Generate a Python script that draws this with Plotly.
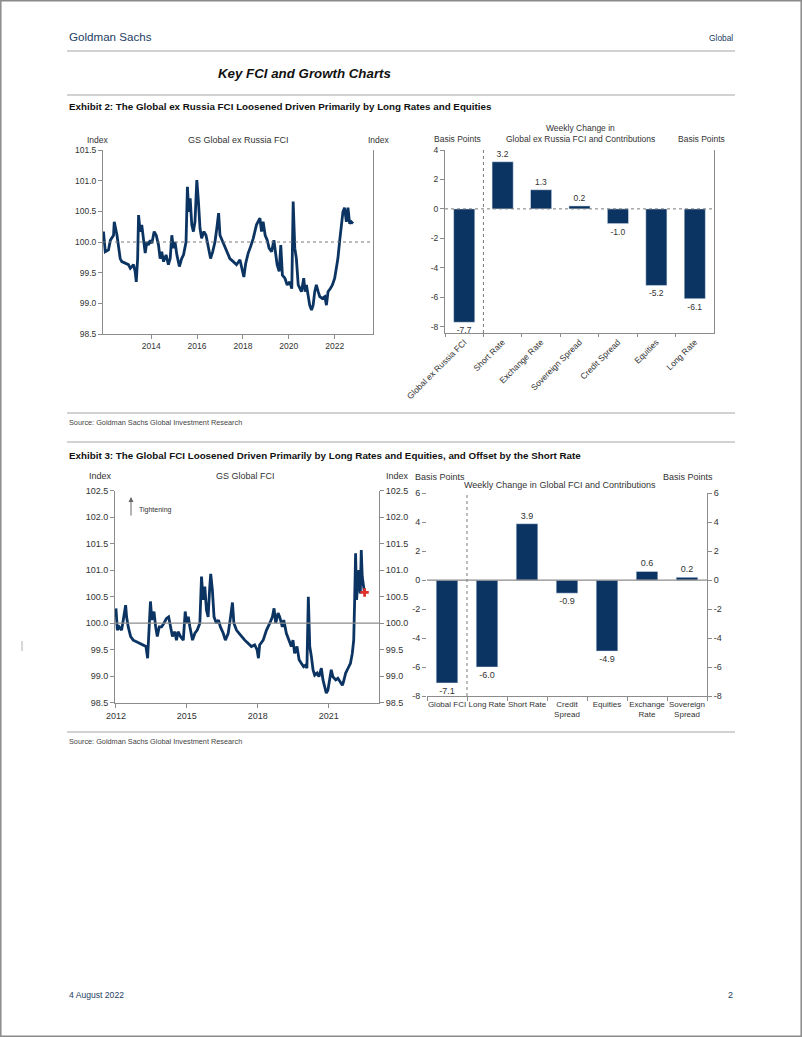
import plotly.graph_objects as go

W, H = 802, 1037

# ---------------- data ----------------
# GS Global ex Russia FCI (index)
exr_years = [2011.92, 2012.00, 2012.14, 2012.22, 2012.36, 2012.39, 2012.51, 2012.58, 2012.65, 2012.72,
             2012.87, 2013.01, 2013.09, 2013.23, 2013.30, 2013.35, 2013.41, 2013.45, 2013.52, 2013.59,
             2013.67, 2013.74, 2013.81, 2013.88, 2013.96, 2014.03, 2014.13, 2014.22, 2014.32, 2014.39,
             2014.46, 2014.54, 2014.65, 2014.75, 2014.83, 2014.90, 2014.97, 2015.04, 2015.12, 2015.23,
             2015.33, 2015.41, 2015.52, 2015.58, 2015.64, 2015.70, 2015.77, 2015.84, 2015.91, 2015.99,
             2016.06, 2016.13, 2016.20, 2016.30, 2016.39, 2016.49, 2016.59, 2016.68, 2016.78, 2016.86,
             2016.94, 2017.00, 2017.12, 2017.22, 2017.32, 2017.43, 2017.58, 2017.72, 2017.87, 2017.97,
             2018.04, 2018.12, 2018.23, 2018.33, 2018.45, 2018.59, 2018.74, 2018.81, 2018.88, 2018.97,
             2019.06, 2019.14, 2019.25, 2019.35, 2019.43, 2019.49, 2019.58, 2019.65, 2019.72, 2019.83,
             2019.93, 2020.04, 2020.13, 2020.19, 2020.26, 2020.33, 2020.41, 2020.48, 2020.55, 2020.65,
             2020.71, 2020.77, 2020.84, 2020.91, 2020.99, 2021.06, 2021.13, 2021.20, 2021.28, 2021.35,
             2021.46, 2021.57, 2021.64, 2021.71, 2021.81, 2021.90, 2022.00, 2022.07, 2022.14, 2022.22,
             2022.29, 2022.36, 2022.43, 2022.51, 2022.58, 2022.65, 2022.72, 2022.80]
exr_values = [100.17, 99.84, 99.87, 100.03, 100.11, 100.33, 100.11, 99.90, 99.73, 99.68,
              99.65, 99.63, 99.57, 99.63, 99.52, 99.35, 99.73, 100.44, 100.17, 100.28,
              100.03, 99.82, 100.00, 99.95, 100.03, 99.98, 100.17, 100.11, 99.95, 99.73,
              99.84, 99.68, 99.79, 99.63, 99.73, 100.11, 99.90, 100.00, 99.79, 99.60,
              99.73, 99.79, 100.00, 100.90, 100.49, 100.71, 100.28, 100.17, 100.33, 101.01,
              100.66, 100.22, 100.06, 100.17, 100.11, 99.92, 99.73, 99.84, 100.00, 100.22,
              100.47, 100.11, 100.00, 99.90, 99.84, 99.73, 99.68, 99.63, 99.71, 99.57,
              99.43, 99.65, 99.82, 99.92, 100.06, 100.28, 100.39, 100.17, 100.33, 100.11,
              100.03, 99.90, 99.84, 100.03, 99.84, 99.63, 99.52, 99.95, 99.46, 99.41,
              99.30, 99.35, 99.24, 100.66, 99.90, 99.73, 99.30, 99.24, 99.19, 99.41,
              99.19, 99.30, 99.14, 98.97, 98.89, 98.97, 99.19, 99.30, 99.19, 99.11,
              99.08, 99.11, 98.97, 99.19, 99.24, 99.30, 99.41, 99.57, 99.73, 100.03,
              100.22, 100.49, 100.56, 100.33, 100.56, 100.30, 100.33, 100.30]

# GS Global FCI (index)
gl_years = [2012.00, 2012.06, 2012.14, 2012.24, 2012.31, 2012.41, 2012.45, 2012.52, 2012.62, 2012.73,
            2012.87, 2013.01, 2013.15, 2013.27, 2013.34, 2013.41, 2013.46, 2013.52, 2013.61, 2013.68,
            2013.75, 2013.83, 2013.93, 2014.03, 2014.14, 2014.23, 2014.31, 2014.39, 2014.49, 2014.56,
            2014.63, 2014.73, 2014.85, 2014.93, 2014.99, 2015.06, 2015.13, 2015.24, 2015.34, 2015.44,
            2015.55, 2015.62, 2015.69, 2015.76, 2015.83, 2015.90, 2015.97, 2016.01, 2016.08, 2016.15,
            2016.25, 2016.34, 2016.42, 2016.54, 2016.63, 2016.75, 2016.85, 2016.93, 2016.99, 2017.10,
            2017.21, 2017.31, 2017.45, 2017.59, 2017.73, 2017.87, 2017.97, 2018.03, 2018.08, 2018.23,
            2018.37, 2018.51, 2018.62, 2018.69, 2018.76, 2018.86, 2018.93, 2019.04, 2019.10, 2019.21,
            2019.32, 2019.42, 2019.49, 2019.56, 2019.66, 2019.75, 2019.85, 2019.94, 2020.03, 2020.08,
            2020.14, 2020.20, 2020.27, 2020.34, 2020.41, 2020.51, 2020.59, 2020.69, 2020.76, 2020.83,
            2020.90, 2020.97, 2021.04, 2021.11, 2021.18, 2021.30, 2021.39, 2021.49, 2021.58, 2021.63,
            2021.72, 2021.82, 2021.92, 2022.00, 2022.06, 2022.10, 2022.14, 2022.18, 2022.24, 2022.28,
            2022.34, 2022.38, 2022.42, 2022.46, 2022.51]
gl_values = [100.28, 99.87, 99.93, 99.87, 100.06, 100.34, 100.12, 99.93, 99.75, 99.68,
             99.65, 99.62, 99.59, 99.56, 99.34, 100.00, 100.41, 100.06, 100.22, 99.93,
             99.75, 99.93, 99.93, 100.00, 100.09, 100.12, 99.93, 99.75, 99.84, 99.68,
             99.84, 99.75, 99.68, 100.22, 100.00, 100.12, 99.93, 99.68, 99.81, 99.87,
             100.00, 100.88, 100.44, 100.69, 100.25, 100.12, 100.69, 100.93, 100.63, 100.12,
             100.00, 100.06, 99.93, 99.81, 99.68, 99.81, 100.12, 100.39, 100.00, 99.87,
             99.81, 99.75, 99.68, 99.62, 99.56, 99.59, 99.50, 99.34, 99.59, 99.68,
             99.87, 100.00, 100.12, 100.28, 100.00, 100.19, 100.12, 99.93, 100.06, 99.81,
             99.68, 99.56, 99.68, 99.43, 99.56, 99.31, 99.24, 99.18, 99.21, 99.15,
             100.50, 99.56, 99.37, 99.12, 99.02, 99.06, 98.99, 99.15, 98.93, 98.80,
             98.68, 98.74, 98.93, 99.12, 98.99, 98.93, 98.96, 98.90, 98.83, 98.90,
             99.06, 99.15, 99.24, 99.43, 99.68, 100.44, 101.32, 100.44, 100.75, 101.00,
             100.56, 101.38, 100.88, 100.69, 100.59]
gl_latest_year = [2022.52]
gl_latest_value = [100.58]

exr_xticks = [2014, 2016, 2018, 2020, 2022]
gl_xticks = [2012, 2015, 2018, 2021]
exr_bp_ticks = [-8, -6, -4, -2, 0, 2, 4]
glc_bp_ticks = [-8, -6, -4, -2, 0, 2, 4, 6]

exr_cats = ["Global ex Russia FCI", "Short Rate", "Exchange Rate", "Sovereign Spread",
            "Credit Spread", "Equities", "Long Rate"]
exr_vals = [-7.7, 3.2, 1.3, 0.2, -1.0, -5.2, -6.1]

glc_cats = ["Global FCI", "Long Rate", "Short Rate", "Credit<br>Spread", "Equities",
            "Exchange<br>Rate", "Sovereign<br>Spread"]
glc_vals = [-7.1, -6.0, 3.9, -0.9, -4.9, 0.6, 0.2]

# ---------------- helpers / styles ----------------
def fx(px):
    return px / W


def fy(py):
    return 1 - py / H


NAVY = "#0b3462"
AX = "#8c8c8c"
TXT = "#333333"
HDR = "#23405f"
FONT = "Liberation Sans, Arial, sans-serif"

fig = go.Figure()

fig.add_trace(go.Scatter(x=exr_years, y=exr_values, mode="lines",
                         line=dict(color=NAVY, width=2.8), xaxis="x", yaxis="y",
                         hoverinfo="skip"))
fig.add_trace(go.Bar(x=exr_cats, y=exr_vals, marker_color=NAVY, width=0.55,
                     text=[f"{v:.1f}" for v in exr_vals], textposition="outside",
                     textfont=dict(size=8.5, color=TXT, family=FONT), cliponaxis=False,
                     xaxis="x2", yaxis="y2", hoverinfo="skip"))
fig.add_trace(go.Scatter(x=gl_years, y=gl_values, mode="lines",
                         line=dict(color=NAVY, width=2.8), xaxis="x3", yaxis="y3",
                         hoverinfo="skip"))
fig.add_trace(go.Scatter(x=gl_latest_year, y=gl_latest_value, mode="markers",
                         marker=dict(symbol="cross", size=7, color="#e0302c"),
                         xaxis="x3", yaxis="y4", hoverinfo="skip"))
fig.add_trace(go.Bar(x=glc_cats, y=glc_vals, marker_color=NAVY, width=0.54,
                     text=[f"{v:.1f}" for v in glc_vals], textposition="outside",
                     textfont=dict(size=9, color=TXT, family=FONT), cliponaxis=False,
                     xaxis="x4", yaxis="y5", hoverinfo="skip"))
fig.add_trace(go.Scatter(x=glc_cats, y=glc_vals, mode="markers", marker=dict(opacity=0),
                         xaxis="x4", yaxis="y6", hoverinfo="skip"))

common = dict(showgrid=False, zeroline=False, linecolor=AX, linewidth=1, tickcolor=AX,
              ticklen=4, automargin=False, tickfont=dict(family=FONT, size=8.5, color=TXT))
common9 = dict(common, tickfont=dict(family=FONT, size=9, color=TXT))

fig.update_layout(
    width=W, height=H, autosize=False, showlegend=False,
    margin=dict(l=0, r=0, t=0, b=0, pad=0, autoexpand=False),
    paper_bgcolor="white", plot_bgcolor="white",
    font=dict(family=FONT, color=TXT),
    xaxis=dict(common, domain=[fx(103), fx(373)], range=[2011.9, 2023.67],
               tickvals=exr_xticks, ticktext=[str(t) for t in exr_xticks],
               ticks="outside", showline=True, anchor="y"),
    yaxis=dict(common, domain=[fy(334), fy(150)], range=[98.5, 101.5], dtick=0.5,
               tickformat=".1f", ticks="outside", showline=True, mirror=True, anchor="x"),
    xaxis2=dict(common, domain=[fx(445), fx(714)], type="category", range=[-0.5, 6.5],
                tickangle=-45, ticks="outside", tickson="boundaries", ticklen=3,
                showline=True, anchor="y2"),
    yaxis2=dict(common, domain=[fy(333), fy(150)], range=[-8.43, 4],
                tickvals=exr_bp_ticks, ticktext=[str(t) for t in exr_bp_ticks],
                ticks="outside", showline=True, mirror=True, anchor="x2"),
    xaxis3=dict(common9, domain=[fx(115), fx(379)], range=[2011.96, 2023.13],
                tickvals=gl_xticks, ticktext=[str(t) for t in gl_xticks],
                ticks="outside", showline=True, anchor="y3"),
    yaxis3=dict(common9, domain=[fy(702.7), fy(490.7)], range=[98.5, 102.5], dtick=0.5,
                tickformat=".1f", ticks="outside", showline=True, anchor="x3"),
    yaxis4=dict(common9, overlaying="y3", side="right", anchor="x3", range=[98.5, 102.5],
                dtick=0.5, tickformat=".1f", ticks="outside", showline=True),
    xaxis4=dict(common, domain=[fx(427), fx(707)], type="category", range=[-0.5, 6.5],
                tickangle=0, ticks="outside", tickson="boundaries", ticklen=4,
                showline=True, anchor="y5", tickfont=dict(family=FONT, size=8, color=TXT)),
    yaxis5=dict(common9, domain=[fy(696), fy(493.3)], range=[-8, 6],
                tickvals=glc_bp_ticks, ticktext=[str(t) for t in glc_bp_ticks],
                ticks="outside", showline=False, anchor="x4"),
    yaxis6=dict(common9, overlaying="y5", side="right", anchor="x4", range=[-8, 6],
                tickvals=glc_bp_ticks, ticktext=[str(t) for t in glc_bp_ticks],
                ticks="outside", showline=True),
)

shapes = []
# page border
shapes.append(dict(type="rect", xref="paper", yref="paper", x0=fx(0.8), x1=fx(801.2),
                   y0=fy(1036.2), y1=fy(0.8), line=dict(color="#8a8a8a", width=1.5)))
# horizontal rules
for ry in [51, 95, 413, 442, 732]:
    shapes.append(dict(type="line", xref="paper", yref="paper", x0=fx(67), x1=fx(735),
                       y0=fy(ry), y1=fy(ry), line=dict(color="#a6a6a6", width=1.2)))
# small margin mark
shapes.append(dict(type="line", xref="paper", yref="paper", x0=fx(22), x1=fx(22),
                   y0=fy(651), y1=fy(641), line=dict(color="#b0b0b0", width=1)))
# reference lines
shapes.append(dict(type="line", xref="x domain", yref="y", x0=0, x1=1, y0=100, y1=100,
                   line=dict(color="#7a7a7a", width=1, dash="dot")))
shapes.append(dict(type="line", xref="x2 domain", yref="y2", x0=0, x1=1, y0=0, y1=0,
                   line=dict(color="#7a7a7a", width=1, dash="dot")))
shapes.append(dict(type="line", xref="x2", yref="y2 domain", x0=0.5, x1=0.5, y0=0, y1=1,
                   line=dict(color="#7a7a7a", width=1, dash="dot")))
shapes.append(dict(type="line", xref="x3 domain", yref="y3", x0=0, x1=1, y0=100, y1=100,
                   line=dict(color="#8c8c8c", width=1.2)))
shapes.append(dict(type="line", xref="x4 domain", yref="y5", x0=0, x1=1, y0=0, y1=0,
                   line=dict(color="#8c8c8c", width=1.2)))
shapes.append(dict(type="line", xref="x4", yref="y5 domain", x0=0.5, x1=0.5, y0=0, y1=1,
                   line=dict(color="#7a7a7a", width=1, dash="dot")))
fig.update_layout(shapes=shapes)

ann = []


def text(t, x, y, size=9, color=TXT, xanchor="center", yanchor="middle"):
    ann.append(dict(text=t, x=fx(x), y=fy(y), xref="paper", yref="paper", showarrow=False,
                    xanchor=xanchor, yanchor=yanchor,
                    font=dict(family=FONT, size=size, color=color)))


# page header / footer
text("Goldman Sachs", 67, 36, size=11.6, color=HDR, xanchor="left")
text("Global", 735, 38, size=8.4, color=HDR, xanchor="right")
text("<b><i>Key FCI and Growth Charts</i></b>", 304, 73, size=13.3, color="#111111")
text("<b>Exhibit 2: The Global ex Russia FCI Loosened Driven Primarily by Long Rates and Equities</b>",
     67, 106, size=9.8, color="#111111", xanchor="left")
text("Source: Goldman Sachs Global Investment Research", 67, 423, size=7.3,
     color="#444444", xanchor="left")
text("<b>Exhibit 3: The Global FCI Loosened Driven Primarily by Long Rates and Equities, and Offset by the Short Rate</b>",
     67, 456, size=9.8, color="#111111", xanchor="left")
text("Source: Goldman Sachs Global Investment Research", 67, 741, size=7.3,
     color="#444444", xanchor="left")
text("4 August 2022", 67, 995, size=8.6, color=HDR, xanchor="left")
text("2", 735, 995, size=9, color=HDR, xanchor="right")

# chart 1 labels
text("Index", 98, 140, size=8.5)
text("GS Global ex Russia FCI", 238, 140, size=9)
text("Index", 379, 140, size=8.5)
# chart 2 labels
text("Basis Points", 457, 139, size=8.5)
text("Weekly Change in", 580, 128, size=8.5)
text("Global ex Russia FCI and Contributions", 580, 139, size=8.5)
text("Basis Points", 701, 139, size=8.5)
# chart 3 labels
text("Index", 100, 476, size=9)
text("GS Global FCI", 245, 476, size=9)
text("Index", 397, 476, size=9)
text("Tightening", 137, 510, size=7, xanchor="left")
ann.append(dict(text="", x=fx(131), y=fy(497), xref="paper", yref="paper", showarrow=True,
                ax=0, ay=20, arrowhead=2, arrowsize=1, arrowwidth=1, arrowcolor="#666666"))
# chart 4 labels
text("Basis Points", 440, 477, size=9)
text("Weekly Change in Global FCI and Contributions", 560, 485, size=9)
text("Basis Points", 688, 477, size=9)

fig.update_layout(annotations=ann)

fig.write_html(
    "out.html",
    config={"displayModeBar": False},
    post_script="document.body.style.margin='0';document.body.style.padding='0';"
                "document.documentElement.style.overflow='hidden';",
)
